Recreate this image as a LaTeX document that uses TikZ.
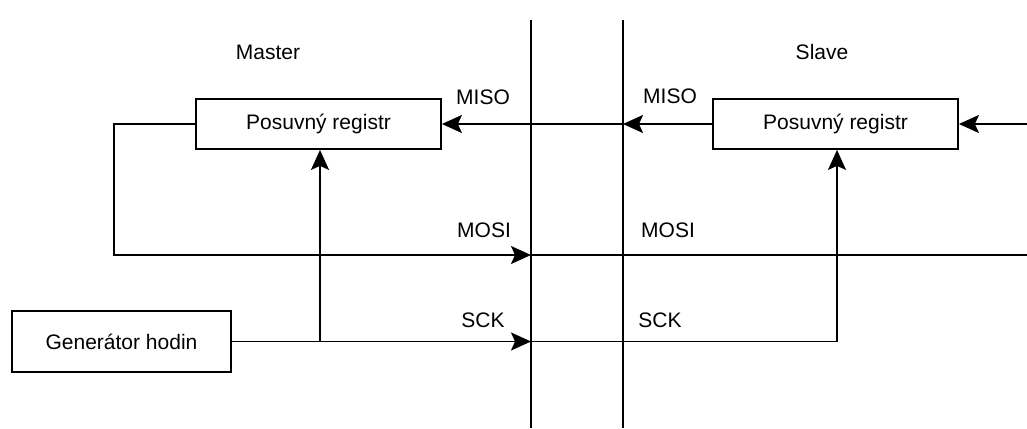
\documentclass[tikz,border=0pt]{standalone}
\usepackage{fontspec}
\setmainfont{Liberation Sans}
\usetikzlibrary{arrows.meta}
\begin{document}
\begin{tikzpicture}[x=1pt,y=-1pt,
  line width=1.8pt,
  every node/.style={font=\fontsize{21}{25}\selectfont},
  box/.style={draw, rectangle, inner sep=0pt},
  lbl/.style={inner sep=0pt},
  tip/.style={-{Stealth[length=20pt,width=18pt,inset=4pt]}}]
\useasboundingbox (0,0) rectangle (1027,428);
% registers
\node[box, minimum width=245pt, minimum height=50pt] (mreg) at (318.5,124) {Posuvný registr};
\node[box, minimum width=245pt, minimum height=50pt] (sreg) at (835.5,124) {Posuvný registr};
\node[box, minimum width=219pt, minimum height=61pt] (gen) at (121.5,341.5) {Generátor hodin};
% labels
\node[lbl] (master) at (268,52) {Master};
\node[lbl] (slave) at (822,52) {Slave};
\node[lbl] (miso1) at (483,97) {MISO};
\node[lbl] (miso2) at (670,96) {MISO};
\node[lbl] (mosi1) at (484,230) {MOSI};
\node[lbl] (mosi2) at (668,230) {MOSI};
\node[lbl] (sck1) at (483,320) {SCK};
\node[lbl] (sck2) at (660,320) {SCK};
% coordinates
\coordinate (v1t) at (531,20);
\coordinate (v1b) at (531,428);
\coordinate (v2t) at (623,20);
\coordinate (v2b) at (623,428);
\coordinate (misoin) at (1027,124);
\coordinate (misoj) at (623,124);
\coordinate (fbtop) at (114,124);
\coordinate (fbbot) at (114,255);
\coordinate (mosij) at (531,255);
\coordinate (mosiout) at (1027,255);
\coordinate (sckj) at (531,341.5);
\coordinate (mclk) at (320,341.5);
\coordinate (sclk) at (837,341.5);
% bus lines
\draw (v1t) -- (v1b);
\draw (v2t) -- (v2b);
% MISO
\draw[tip] (misoin) -- (sreg.east);
\draw[tip] (sreg.west) -- (misoj);
\draw[tip] (misoj) -- (mreg.east);
% MOSI
\draw[tip] (mreg.west) -- (fbtop) -- (fbbot) -- (mosij);
\draw (mosij) -- (mosiout);
% SCK
\draw[tip] (gen.east) -- (sckj);
\draw[tip] (mclk) -- (mclk |- mreg.south);
\draw[tip] (sckj) -- (sclk) -- (sclk |- sreg.south);
\end{tikzpicture}
\end{document}
